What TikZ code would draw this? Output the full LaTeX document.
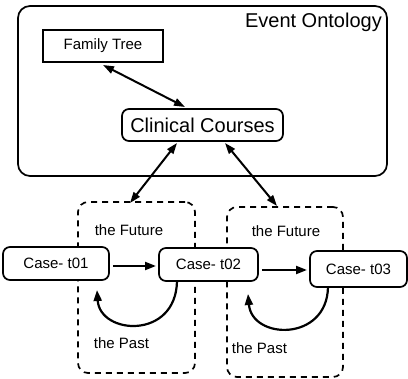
\documentclass[tikz,border=0pt]{standalone}
\usepackage{fontspec}
\setmainfont{Liberation Sans}
\usetikzlibrary{arrows.meta}
\begin{document}
\begin{tikzpicture}[x=1pt,y=-1pt,
  box/.style={draw,line width=1.7pt,inner sep=0pt,align=center},
  rbox/.style={box,rounded corners=7pt},
  dbox/.style={draw,line width=1.7pt,dash pattern=on 6pt off 5pt,rounded corners=10pt},
  small/.style={font=\fontsize{15}{17}\selectfont},
  big/.style={font=\fontsize{20}{23}\selectfont},
  arr/.style={line width=2.2pt,-{Triangle[length=11pt,width=8pt]}},
  darr/.style={line width=2pt,{Triangle[length=11pt,width=7.5pt]}-{Triangle[length=11pt,width=7.5pt]}}]
\useasboundingbox (0,0) rectangle (408,379);
% outer event ontology box
\node[box,rounded corners=12pt,minimum width=369pt,minimum height=170pt] (outer) at (202.5,91) {};
\node[big,anchor=east,inner sep=0pt] (eo) at (382,22) {Event Ontology};
\node[box,small,minimum width=120pt,minimum height=32pt] (ft) at (103,46) {Family Tree};
\node[rbox,big,minimum width=161pt,minimum height=32pt] (cc) at (202.5,125) {Clinical Courses};
% dashed boxes
\node[dbox,minimum width=117pt,minimum height=171pt] (d1) at (136.5,287.5) {};
\node[dbox,minimum width=116pt,minimum height=170pt] (d2) at (285,292) {};
% cases
\node[rbox,small,minimum width=106pt,minimum height=33pt,fill=white] (c1) at (56,263.5) {Case- t01};
\node[rbox,small,minimum width=99pt,minimum height=33pt,fill=white] (c2) at (208.5,264.5) {Case- t02};
\node[rbox,small,minimum width=97pt,minimum height=36pt,fill=white] (c3) at (358.5,269) {Case- t03};
% labels
\node[small] (f1) at (129,230) {the Future};
\node[small] (f2) at (286,231) {the Future};
\node[small] (p1) at (121.5,343) {the Past};
\node[small] (p2) at (259.5,348) {the Past};
% arrows
\draw[darr] (103,65) -- (185,107);
\coordinate (a1) at (130,203);
\coordinate (a2) at (277,206);
\draw[darr] (177,143) -- (a1);
\draw[darr] (225,143) -- (a2);
\draw[arr] (c1.east|-0,266) ++(3,0) -- (156,266);
\draw[arr] (c2.east|-0,270) ++(3,0) -- (307,270);
\draw[arr] (177,281) .. controls (176,340) and (100,335) .. (97,290);
\draw[arr] (328,287) .. controls (327,342) and (252,340) .. (248,294);
\end{tikzpicture}
\end{document}
